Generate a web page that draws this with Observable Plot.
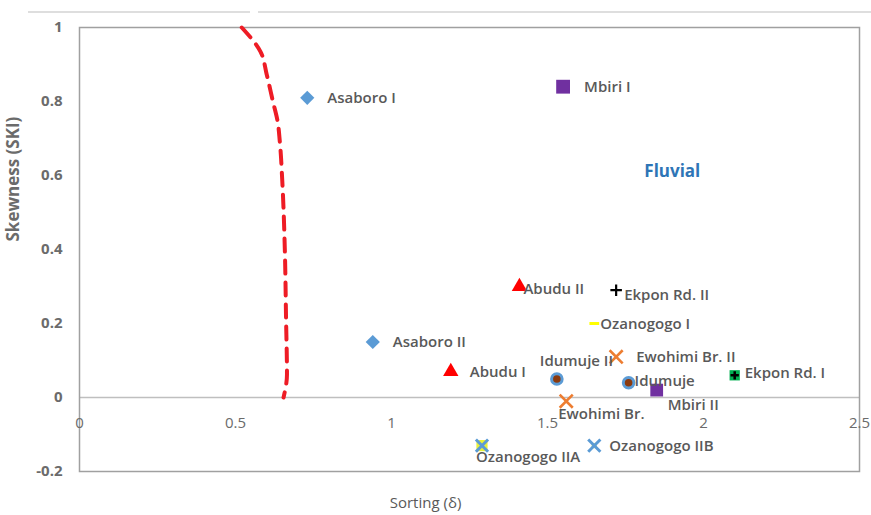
<!DOCTYPE html>
<html><head><meta charset="utf-8">
<script src="https://cdn.jsdelivr.net/npm/d3@7"></script>
<script src="https://cdn.jsdelivr.net/npm/@observablehq/plot@0.6"></script>
<style>
body{margin:0;background:#fff;}
#wrap{position:relative;width:871px;height:515px;overflow:hidden;}
.topline{position:absolute;top:11px;height:0;border-top:2px solid #dedede;}
</style></head><body>
<div id="wrap"><div id="chart"></div><div class="topline" style="left:28px;width:222px"></div><div class="topline" style="left:258px;width:613px"></div></div>
<script>
// ---- data ----
const sites = ["Asaboro I","Mbiri I","Asaboro II","Abudu II","Ekpon Rd. II","Ozanogogo I","Ewohimi Br. II","Abudu I","Idumuje II","Idumuje","Mbiri II","Ekpon Rd. I","Ewohimi Br.","Ozanogogo IIA","Ozanogogo IIB"];
const sorting  = [0.73, 1.55, 0.94, 1.41, 1.72, 1.65, 1.72, 1.19, 1.53, 1.76, 1.85, 2.10, 1.56, 1.29, 1.65];
const skewness = [0.81, 0.84, 0.15, 0.30, 0.29, 0.20, 0.11, 0.07, 0.05, 0.04, 0.02, 0.06, -0.01, -0.13, -0.13];
const boundarySorting  = [0.52, 0.58, 0.60, 0.62, 0.635, 0.642, 0.650, 0.658, 0.662, 0.665, 0.654];
const boundarySkewness = [1.00, 0.935, 0.873, 0.80, 0.746, 0.692, 0.584, 0.403, 0.214, 0.062, 0.0];
const xTicks = [0, 0.5, 1, 1.5, 2, 2.5];
const yTicks = [-0.2, 0, 0.2, 0.4, 0.6, 0.8, 1];
const zoneName = "Fluvial";
const zoneSorting = 1.90, zoneSkewness = 0.61;
const xTitle = "Sorting (δ)";
const yTitle = "Skewness (SKI)";

// ---- styles / layout (not data) ----
const labelOffsets = {
  "Asaboro I":[20,0], "Mbiri I":[21,0], "Asaboro II":[20,0], "Abudu II":[4,3],
  "Ekpon Rd. II":[8,5], "Ozanogogo I":[6,1], "Ewohimi Br. II":[20,0], "Abudu I":[19,1],
  "Idumuje II":[-17,-18], "Idumuje":[6,-2], "Mbiri II":[11,15], "Ekpon Rd. I":[10,-2],
  "Ewohimi Br.":[-8,13], "Ozanogogo IIA":[-6,12], "Ozanogogo IIB":[15,1]
};
const dashSymbol = {draw(ctx, size){ const w = Math.sqrt(size)/2; ctx.rect(-w, -1.5, 2*w, 3); }};
const layers = [
  {sites:["Asaboro I","Asaboro II"], symbol:"diamond2", r:6.4, fill:"#5B9BD5"},
  {sites:["Mbiri I"], symbol:"square", r:7.8, fill:"#7030A0"},
  {sites:["Mbiri II"], symbol:"square", r:7.2, fill:"#7030A0"},
  {sites:["Abudu II","Abudu I"], symbol:"triangle", r:5.7, fill:"#FF0000"},
  {sites:["Ekpon Rd. II"], symbol:"plus", r:3.8, stroke:"#000", strokeWidth:2.2},
  {sites:["Ozanogogo I"], symbol:dashSymbol, r:5.5, fill:"#FFFF00"},
  {sites:["Ewohimi Br. II","Ewohimi Br."], symbol:"times", r:6, stroke:"#ED7D31", strokeWidth:2.6},
  {sites:["Idumuje II","Idumuje"], symbol:"circle", r:5.3, fill:"#8B3A0E", stroke:"#5B9BD5", strokeWidth:3},
  {sites:["Ekpon Rd. I"], symbol:"square", r:5.8, fill:"#00B050"},
  {sites:["Ekpon Rd. I"], symbol:"plus", r:2.8, stroke:"#000", strokeWidth:2.5},
  {sites:["Ozanogogo IIA"], symbol:"square", r:6.3, fill:"#E8F03A"},
  {sites:["Ozanogogo IIB"], symbol:"square", r:3, fill:"#D9F07A"},
  {sites:["Ozanogogo IIA","Ozanogogo IIB"], symbol:"times", r:5.6, stroke:"#5B9BD5", strokeWidth:3}
];

const points = sites.map((s, i) => ({site: s, sorting: sorting[i], skewness: skewness[i]}));
const boundary = boundarySorting.map((x, i) => ({sorting: x, skewness: boundarySkewness[i]}));
const FONT = "'Open Sans', Lato, sans-serif";
const fmt = d => String(+d.toFixed(1));

const marks = [
  Plot.ruleY([0], {stroke:"#bfbfbf", strokeWidth:1.3}),
  Plot.frame({stroke:"#a0a0a0", strokeWidth:1.5}),
  Plot.line(boundary, {x:"sorting", y:"skewness", stroke:"#EE1C25", strokeWidth:4, strokeDasharray:"13,9", curve:"monotone-y"}),
  Plot.axisY(yTicks, {tickSize:0, tickPadding:17, tickFormat:fmt, label:null, fontSize:15, fontWeight:"bold", fill:"#6b6b6b"}),
  Plot.text(xTicks, {x:d=>d, y:0, dy:26, text:fmt, fontSize:15, fill:"#6b6b6b"}),
  Plot.text([yTitle], {frameAnchor:"left", dx:-66, dy:-8, rotate:-90, text:d=>d, fontSize:17, fontWeight:"bold", fill:"#6b6b6b"}),
  Plot.text([xTitle], {frameAnchor:"bottom", dx:-44, dy:36, text:d=>d, fontSize:15, fill:"#595959"}),
  Plot.text([zoneName], {x:()=>zoneSorting, y:()=>zoneSkewness, text:d=>d, fontSize:17, fontWeight:"bold", fill:"#2E75B6"})
];
for (const L of layers) {
  marks.push(Plot.dot(points.filter(p => L.sites.includes(p.site)), {
    x:"sorting", y:"skewness", symbol: L.symbol, r: L.r,
    fill: L.fill || "none", stroke: L.stroke || "none", strokeWidth: L.strokeWidth || 1
  }));
}
for (const p of points) {
  const [dx, dy] = labelOffsets[p.site];
  marks.push(Plot.text([p], {x:"sorting", y:"skewness", text:"site", dx, dy, textAnchor:"start",
    fontSize:15, fontWeight:"600", fill:"#595959"}));
}

const chart = Plot.plot({
  width: 871, height: 515,
  marginTop: 27, marginBottom: 44, marginLeft: 79, marginRight: 12,
  style: {fontFamily: FONT, background: "white"},
  x: {domain:[0, 2.5], axis:null},
  y: {domain:[-0.2, 1], axis:null},
  marks
});
document.getElementById("chart").appendChild(chart);
</script>
</body></html>
